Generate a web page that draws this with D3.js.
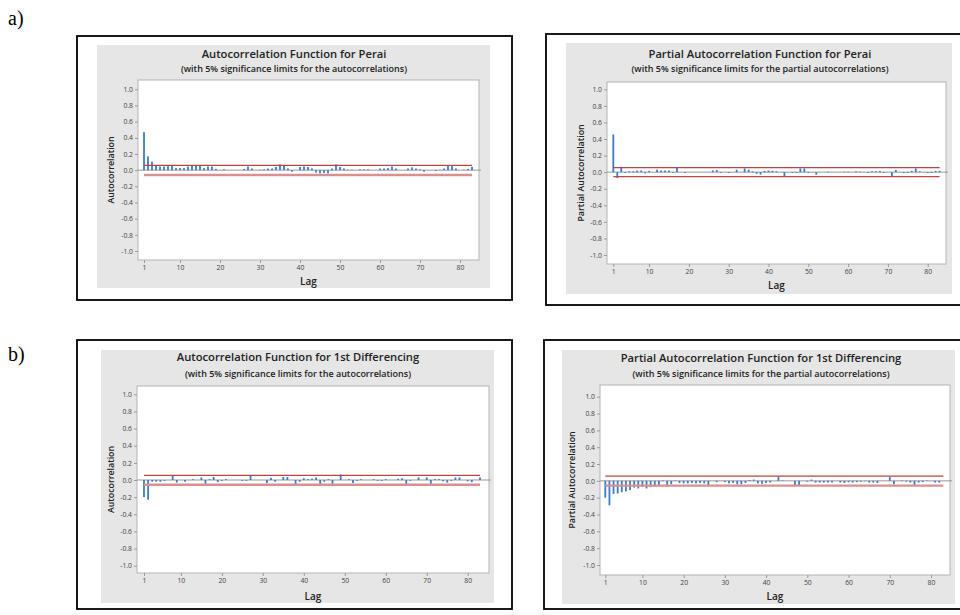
<!DOCTYPE html>
<html>
<head>
<meta charset="utf-8">
<script src="https://cdn.jsdelivr.net/npm/d3@7"></script>
<style>
html,body{margin:0;padding:0;background:#fff;}
svg{display:block;}
</style>
</head>
<body>
<svg id="chart" width="960" height="615"></svg>
<script>
// ---------- DATA ----------
const xTicks = [1, 10, 20, 30, 40, 50, 60, 70, 80];
const yTicks = [1.0, 0.8, 0.6, 0.4, 0.2, 0.0, -0.2, -0.4, -0.6, -0.8, -1.0];
const yTickLabels = ["1.0","0.8","0.6","0.4","0.2","0.0","-0.2","-0.4","-0.6","-0.8","-1.0"];

// Lags 1..83
const acfPerai = [0.47,0.17,0.105,0.06,0.045,0.045,0.05,0.06,0.025,0.025,
  0.025,0.045,0.06,0.06,0.06,0.025,0.045,0.045,0.015,0,
  0.01,0,0,0,0,0.015,0.045,0.02,0,0.005,
  0.01,0.02,0.02,0.04,0.07,0.06,0.02,-0.02,0,0.04,
  0.045,0.04,0.02,-0.03,-0.04,-0.035,-0.04,0.02,0.07,0.04,
  0.02,0.005,0.005,0,0.01,0.01,0.01,0,0,0.02,
  0.02,0.025,0.045,0.02,0,0,0.02,0.035,0.02,0.01,
  -0.02,0,0,-0.01,0.005,0.02,0.06,0.05,0.02,0,
  0.005,0.015,0.04];
const pacfPerai = [0.455,-0.07,0.065,-0.01,0.01,0.01,0.02,0.02,-0.015,0.015,
  0,0.03,0.02,0.02,0.02,-0.01,0.05,0,-0.01,0,
  0,0,0,0,0,0.02,0.025,-0.01,0,-0.01,
  0,0.03,0,0.045,0.03,0.01,-0.02,-0.03,0.015,0.02,
  0.015,0.01,0,-0.055,0,-0.01,-0.01,0.045,0.045,-0.01,
  0,-0.03,0,0,0.005,0,0,0,0.005,0.005,
  0,0.01,0.005,0,-0.01,0.01,0.01,0.015,-0.01,0,
  -0.055,0.025,0,-0.01,-0.01,0.015,0.045,0.01,0,-0.01,
  -0.01,0.015,0.015];
const acfDiff = [-0.20,-0.23,-0.02,-0.02,-0.02,-0.01,0,0.05,-0.03,0,
  -0.02,0,0.01,0,0.03,-0.045,0.01,0.035,-0.025,-0.01,
  0.01,0,0,0,-0.01,-0.01,0.05,0,0,0,
  -0.035,0.025,-0.02,0,0.035,0.035,0,-0.055,-0.02,0.02,
  0.01,0.015,0.03,-0.045,-0.02,0.01,-0.045,0,0.065,0,
  0.01,-0.035,-0.01,0.01,0,0,0.01,-0.01,-0.01,0.01,
  0,0,0.015,0.02,-0.045,-0.01,0,0.03,0,0.03,
  -0.045,0.01,0.01,-0.015,-0.03,-0.01,0.03,0.03,0,-0.015,
  -0.025,0,0.03];
const pacfDiff = [-0.20,-0.29,-0.155,-0.15,-0.135,-0.125,-0.11,-0.08,-0.09,-0.07,
  -0.09,-0.075,-0.07,-0.055,0.005,-0.07,-0.04,0.005,-0.025,-0.03,
  -0.03,-0.025,-0.03,-0.025,-0.03,-0.05,0,-0.015,0,-0.015,
  -0.03,-0.025,-0.04,-0.04,-0.025,0.01,0.015,-0.03,-0.035,-0.025,
  -0.02,0,0.045,0.005,0,0,-0.06,-0.06,0,-0.01,
  0.015,-0.02,-0.02,-0.02,-0.02,-0.02,0,-0.02,-0.025,-0.015,
  -0.02,-0.015,-0.01,-0.005,-0.02,-0.02,-0.025,0,0,0.045,
  -0.04,0,0.005,-0.01,-0.02,-0.05,-0.02,-0.015,0.005,0,
  -0.02,-0.02,0];

const panelTitles = ["Autocorrelation Function for Perai",
  "Partial Autocorrelation Function for Perai",
  "Autocorrelation Function for 1st Differencing",
  "Partial Autocorrelation Function for 1st Differencing"];
const panelSubtitles = ["(with 5% significance limits for the autocorrelations)",
  "(with 5% significance limits for the partial autocorrelations)",
  "(with 5% significance limits for the autocorrelations)",
  "(with 5% significance limits for the partial autocorrelations)"];
const panelYLabels = ["Autocorrelation","Partial Autocorrelation","Autocorrelation","Partial Autocorrelation"];
const panelSeries = [acfPerai, pacfPerai, acfDiff, pacfDiff];
const panelLimits = [0.06, 0.055, 0.055, 0.057];

// ---------- LAYOUT (not data) ----------
const layouts = [
  {box:[77,36,512,300], bg:[97,45,490,288], plot:[138,80,479,260], y1:89.3, ym1:251, x1:144, x80:460,
   tx:294, ty:58, sy:71.5, tickY:270, lagY:285, ylx:111, lowerSoft:true},
  {box:[546,34,964,305], bg:[566,43,952,294], plot:[607,82,946,264], y1:89.3, ym1:255, x1:613.3, x80:927.7,
   tx:760, ty:58, sy:71.5, tickY:274, lagY:289, ylx:581, lowerSoft:false},
  {box:[77,340,512,609], bg:[101,350,494,603], plot:[137,386,489,573], y1:394.3, ym1:565.7, x1:144, x80:467.7,
   tx:298, ty:361, sy:376.5, tickY:585, lagY:600, ylx:111, lowerSoft:true},
  {box:[544,340,964,609], bg:[562,350,955,604], plot:[600,385,950,575], y1:396.7, ym1:565, x1:605.3, x80:931,
   tx:761, ty:361.5, sy:376.5, tickY:585.5, lagY:600, ylx:572, lowerSoft:true}
];

const svg = d3.select("#chart");
const font = "'Open Sans', 'Noto Sans', sans-serif";

// panel letters
svg.append("text").attr("x",8).attr("y",25).attr("font-family","'Liberation Serif', serif")
  .attr("font-size",20).attr("fill","#000").text("a)");
svg.append("text").attr("x",8).attr("y",361).attr("font-family","'Liberation Serif', serif")
  .attr("font-size",20).attr("fill","#000").text("b)");

layouts.forEach((L, i) => {
  const g = svg.append("g");
  const vals = panelSeries[i];
  const lags = vals.map((v, k) => k + 1);
  const lim = panelLimits[i];

  // outer black box
  g.append("rect").attr("x",L.box[0]).attr("y",L.box[1])
    .attr("width",L.box[2]-L.box[0]).attr("height",L.box[3]-L.box[1])
    .attr("fill","#fff").attr("stroke","#000").attr("stroke-width",1.8);
  // gray chart background
  g.append("rect").attr("x",L.bg[0]).attr("y",L.bg[1])
    .attr("width",L.bg[2]-L.bg[0]).attr("height",L.bg[3]-L.bg[1]).attr("fill","#e6e6e6");
  // plot area
  g.append("rect").attr("x",L.plot[0]).attr("y",L.plot[1])
    .attr("width",L.plot[2]-L.plot[0]).attr("height",L.plot[3]-L.plot[1])
    .attr("fill","#fff").attr("stroke","#b4b4b4").attr("stroke-width",1);

  const x = d3.scaleLinear().domain([1,80]).range([L.x1, L.x80]);
  const y = d3.scaleLinear().domain([-1,1]).range([L.ym1, L.y1]);

  // y axis
  const yAxis = d3.axisLeft(y).tickValues(yTicks).tickSize(3).tickPadding(2)
    .tickFormat((d, k) => yTickLabels[k]);
  const ya = g.append("g").attr("transform",`translate(${L.plot[0]},0)`).call(yAxis);
  ya.select(".domain").remove();
  ya.selectAll("line").attr("stroke","#9a9a9a");
  ya.selectAll("text").attr("font-family",font).attr("font-size",6.8).attr("fill","#444");

  // x axis
  const xAxis = d3.axisBottom(x).tickValues(xTicks).tickSize(3).tickPadding(2).tickFormat(d3.format("d"));
  const xa = g.append("g").attr("transform",`translate(0,${L.plot[3]})`).call(xAxis);
  xa.select(".domain").remove();
  xa.selectAll("line").attr("stroke","#9a9a9a");
  xa.selectAll("text").attr("font-family",font).attr("font-size",6.8).attr("fill","#444");

  // zero line
  g.append("line").attr("x1",L.plot[0]).attr("x2",L.plot[2]+2)
    .attr("y1",y(0)).attr("y2",y(0)).attr("stroke","#8c8c8c").attr("stroke-width",0.9);

  // bars
  g.selectAll("rect.bar").data(vals).enter().append("rect").attr("class","bar")
    .attr("x",(d,k) => x(lags[k]) - 0.9)
    .attr("width",1.8)
    .attr("y",d => Math.min(y(d), y(0)))
    .attr("height",d => Math.abs(y(d) - y(0)))
    .attr("fill","#3b7cc8");

  // significance limits
  const xFirst = x(lags[0]), xLast = x(lags[lags.length-1]);
  g.append("line").attr("x1",xFirst).attr("x2",xLast).attr("y1",y(lim)).attr("y2",y(lim))
    .attr("stroke","#b84444").attr("stroke-width",1.3);
  g.append("line").attr("x1",xFirst).attr("x2",xLast).attr("y1",y(-lim)).attr("y2",y(-lim))
    .attr("stroke",L.lowerSoft ? "#d99090" : "#c04444").attr("stroke-width",L.lowerSoft ? 2.4 : 1.3);

  // titles
  g.append("text").attr("x",L.tx).attr("y",L.ty).attr("text-anchor","middle")
    .attr("font-family",font).attr("font-weight",600).attr("font-size",11.2).attr("fill","#222")
    .text(panelTitles[i]);
  g.append("text").attr("x",L.tx).attr("y",L.sy).attr("text-anchor","middle")
    .attr("font-family",font).attr("font-weight",600).attr("font-size",9).attr("fill","#222")
    .text(panelSubtitles[i]);
  g.append("text").attr("x",(L.plot[0]+L.plot[2])/2).attr("y",L.lagY).attr("text-anchor","middle")
    .attr("font-family",font).attr("font-weight",600).attr("font-size",10).attr("fill","#222")
    .text("Lag");
  g.append("text").attr("transform",`translate(${L.ylx},${(L.plot[1]+L.plot[3])/2}) rotate(-90)`)
    .attr("text-anchor","middle").attr("dy","0.35em")
    .attr("font-family",font).attr("font-weight",600).attr("font-size",8.8).attr("fill","#222")
    .text(panelYLabels[i]);
});
</script>
</body>
</html>
